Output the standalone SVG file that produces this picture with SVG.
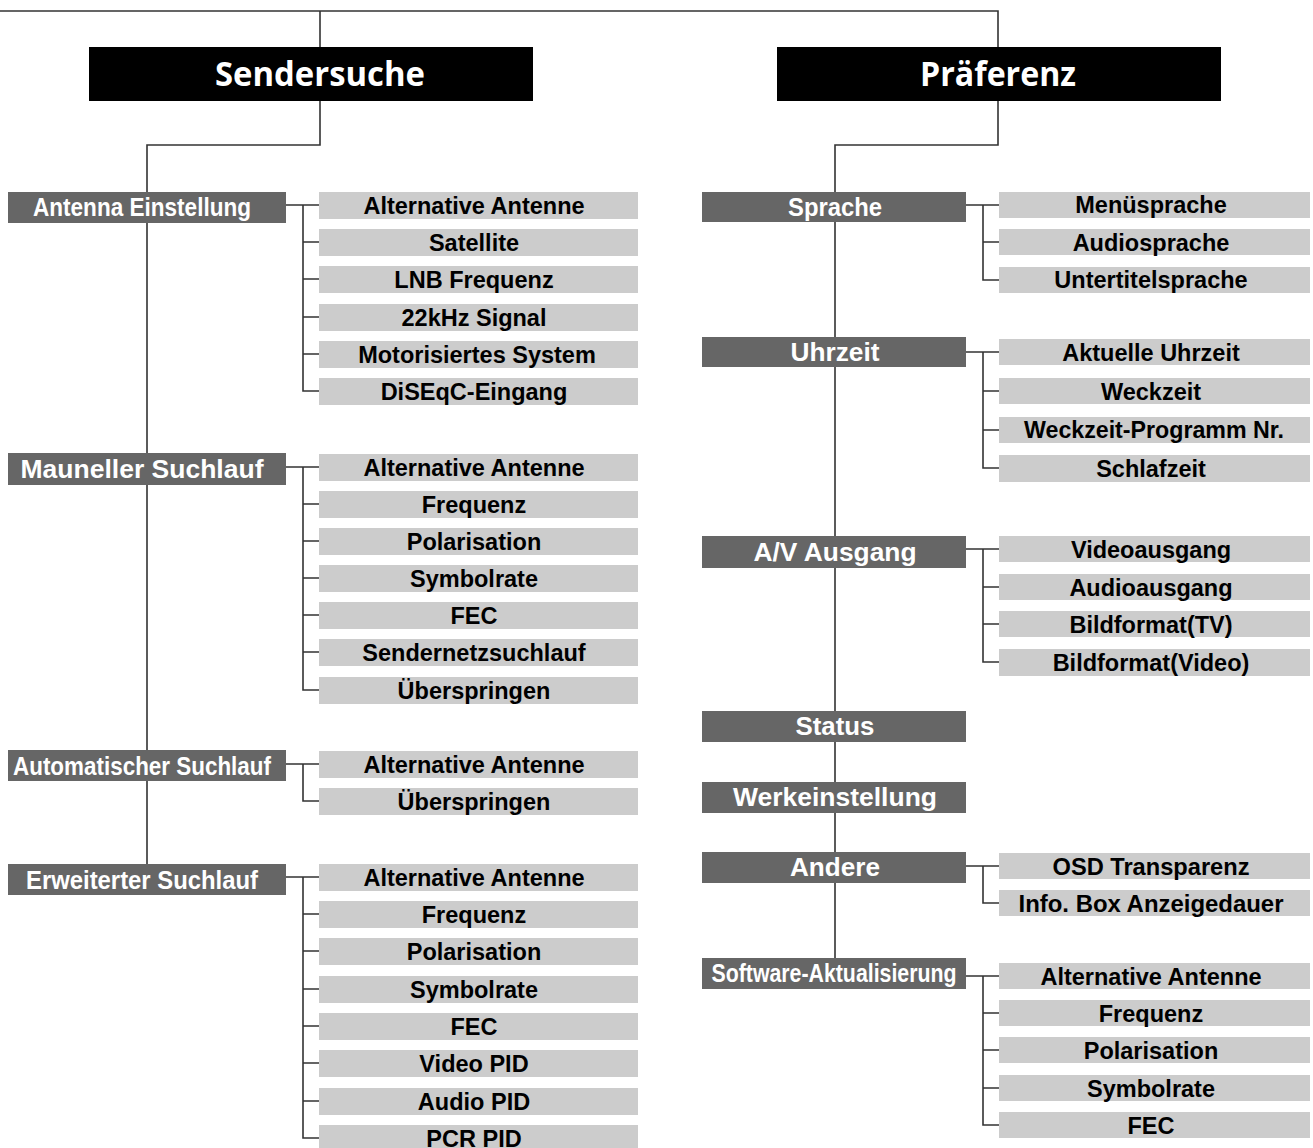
<svg xmlns="http://www.w3.org/2000/svg" width="1313" height="1148" viewBox="0 0 1313 1148">
<style>
.title{fill:#000}
.tt{font-family:"Open Sans","Liberation Sans",sans-serif;font-weight:bold;font-size:34px;fill:#fff;text-anchor:middle}
.cat{fill:#666}
.ct{font-family:"Liberation Sans",Arial,sans-serif;font-weight:bold;font-size:26px;fill:#fff;text-anchor:middle}
.item{fill:#ccc}
.it{font-family:"Liberation Sans",Arial,sans-serif;font-weight:bold;font-size:23.5px;fill:#000;text-anchor:middle}
.ln{fill:none;stroke:#333;stroke-width:1.6}
</style>
<rect width="1313" height="1148" fill="#fff"/>
<g id="connectors">
<path class="ln" d="M0 11H998V47M320 11V47M320 101V145H147V864M998 101V145H835V958"/>
<!-- left branches -->
<path class="ln" d="M286 205H319M303 205V391H319M303 242H319M303 279H319M303 317H319M303 354H319"/>
<path class="ln" d="M286 467H319M303 467V690H319M303 504H319M303 541H319M303 578H319M303 615H319M303 652H319"/>
<path class="ln" d="M286 764H319M303 764V801H319"/>
<path class="ln" d="M286 877H319M303 877V1138H319M303 914H319M303 951H319M303 989H319M303 1026H319M303 1063H319M303 1101H319"/>
<!-- right branches -->
<path class="ln" d="M966 205H999M983 205V280H999M983 242H999"/>
<path class="ln" d="M966 352H999M983 352V468H999M983 391H999M983 430H999"/>
<path class="ln" d="M966 549H999M983 549V662H999M983 587H999M983 624H999"/>
<path class="ln" d="M966 866H999M983 866V903H999"/>
<path class="ln" d="M966 976H999M983 976V1125H999M983 1013H999M983 1050H999M983 1088H999"/>
</g>
<g id="sendersuche"><rect class="title" x="89" y="47" width="444" height="54"/><text class="tt" x="320" y="86" textLength="210" lengthAdjust="spacingAndGlyphs">Sendersuche</text></g>
<g id="praeferenz"><rect class="title" x="777" y="47" width="444" height="54"/><text class="tt" x="998" y="86" textLength="156" lengthAdjust="spacingAndGlyphs">Präferenz</text></g>

<g id="antenna-einstellung"><rect class="cat" x="8" y="192" width="278" height="31"/><text class="ct" x="142" y="216" textLength="218" lengthAdjust="spacingAndGlyphs">Antenna Einstellung</text></g>
<g id="mauneller-suchlauf"><rect class="cat" x="8" y="453" width="278" height="32"/><text class="ct" x="142" y="478" textLength="243" lengthAdjust="spacingAndGlyphs">Mauneller Suchlauf</text></g>
<g id="automatischer-suchlauf"><rect class="cat" x="8" y="750" width="278" height="31"/><text class="ct" x="142" y="775" textLength="258" lengthAdjust="spacingAndGlyphs">Automatischer Suchlauf</text></g>
<g id="erweiterter-suchlauf"><rect class="cat" x="8" y="864" width="278" height="31"/><text class="ct" x="142" y="889" textLength="232" lengthAdjust="spacingAndGlyphs">Erweiterter Suchlauf</text></g>

<g id="a1"><rect class="item" x="319" y="192" width="319" height="27"/><text class="it" x="474" y="214">Alternative Antenne</text></g>
<g id="a2"><rect class="item" x="319" y="229" width="319" height="27"/><text class="it" x="474" y="251">Satellite</text></g>
<g id="a3"><rect class="item" x="319" y="266" width="319" height="27"/><text class="it" x="474" y="288">LNB Frequenz</text></g>
<g id="a4"><rect class="item" x="319" y="304" width="319" height="27"/><text class="it" x="474" y="326">22kHz Signal</text></g>
<g id="a5"><rect class="item" x="319" y="341" width="319" height="27"/><text class="it" x="477" y="363">Motorisiertes System</text></g>
<g id="a6"><rect class="item" x="319" y="378" width="319" height="27"/><text class="it" x="474" y="400">DiSEqC-Eingang</text></g>

<g id="m1"><rect class="item" x="319" y="454" width="319" height="27"/><text class="it" x="474" y="476">Alternative Antenne</text></g>
<g id="m2"><rect class="item" x="319" y="491" width="319" height="27"/><text class="it" x="474" y="513">Frequenz</text></g>
<g id="m3"><rect class="item" x="319" y="528" width="319" height="27"/><text class="it" x="474" y="550">Polarisation</text></g>
<g id="m4"><rect class="item" x="319" y="565" width="319" height="27"/><text class="it" x="474" y="587">Symbolrate</text></g>
<g id="m5"><rect class="item" x="319" y="602" width="319" height="27"/><text class="it" x="474" y="624">FEC</text></g>
<g id="m6"><rect class="item" x="319" y="639" width="319" height="27"/><text class="it" x="474" y="661">Sendernetzsuchlauf</text></g>
<g id="m7"><rect class="item" x="319" y="677" width="319" height="27"/><text class="it" x="474" y="699">Überspringen</text></g>

<g id="au1"><rect class="item" x="319" y="751" width="319" height="27"/><text class="it" x="474" y="773">Alternative Antenne</text></g>
<g id="au2"><rect class="item" x="319" y="788" width="319" height="27"/><text class="it" x="474" y="810">Überspringen</text></g>

<g id="e1"><rect class="item" x="319" y="864" width="319" height="27"/><text class="it" x="474" y="886">Alternative Antenne</text></g>
<g id="e2"><rect class="item" x="319" y="901" width="319" height="27"/><text class="it" x="474" y="923">Frequenz</text></g>
<g id="e3"><rect class="item" x="319" y="938" width="319" height="27"/><text class="it" x="474" y="960">Polarisation</text></g>
<g id="e4"><rect class="item" x="319" y="976" width="319" height="27"/><text class="it" x="474" y="998">Symbolrate</text></g>
<g id="e5"><rect class="item" x="319" y="1013" width="319" height="27"/><text class="it" x="474" y="1035">FEC</text></g>
<g id="e6"><rect class="item" x="319" y="1050" width="319" height="27"/><text class="it" x="474" y="1072">Video PID</text></g>
<g id="e7"><rect class="item" x="319" y="1088" width="319" height="27"/><text class="it" x="474" y="1110">Audio PID</text></g>
<g id="e8"><rect class="item" x="319" y="1125" width="319" height="27"/><text class="it" x="474" y="1147">PCR PID</text></g>

<g id="sprache"><rect class="cat" x="702" y="192" width="264" height="30"/><text class="ct" x="835" y="216" textLength="94" lengthAdjust="spacingAndGlyphs">Sprache</text></g>
<g id="uhrzeit"><rect class="cat" x="702" y="337" width="264" height="30"/><text class="ct" x="835" y="361" textLength="89" lengthAdjust="spacingAndGlyphs">Uhrzeit</text></g>
<g id="av-ausgang"><rect class="cat" x="702" y="536" width="264" height="32"/><text class="ct" x="835" y="561" textLength="163" lengthAdjust="spacingAndGlyphs">A/V Ausgang</text></g>
<g id="status"><rect class="cat" x="702" y="711" width="264" height="31"/><text class="ct" x="835" y="735" textLength="79" lengthAdjust="spacingAndGlyphs">Status</text></g>
<g id="werkeinstellung"><rect class="cat" x="702" y="782" width="264" height="31"/><text class="ct" x="835" y="806" textLength="204" lengthAdjust="spacingAndGlyphs">Werkeinstellung</text></g>
<g id="andere"><rect class="cat" x="702" y="852" width="264" height="31"/><text class="ct" x="835" y="876" textLength="90" lengthAdjust="spacingAndGlyphs">Andere</text></g>
<g id="software"><rect class="cat" x="702" y="958" width="264" height="31"/><text class="ct" x="834" y="982" textLength="245" lengthAdjust="spacingAndGlyphs">Software-Aktualisierung</text></g>

<g id="s1"><rect class="item" x="999" y="192" width="311" height="26"/><text class="it" x="1151" y="213">Menüsprache</text></g>
<g id="s2"><rect class="item" x="999" y="229" width="311" height="26"/><text class="it" x="1151" y="251">Audiosprache</text></g>
<g id="s3"><rect class="item" x="999" y="267" width="311" height="26"/><text class="it" x="1151" y="288">Untertitelsprache</text></g>

<g id="u1"><rect class="item" x="999" y="339" width="311" height="26"/><text class="it" x="1151" y="361">Aktuelle Uhrzeit</text></g>
<g id="u2"><rect class="item" x="999" y="378" width="311" height="26"/><text class="it" x="1151" y="400">Weckzeit</text></g>
<g id="u3"><rect class="item" x="999" y="417" width="311" height="26"/><text class="it" x="1154" y="438" textLength="260" lengthAdjust="spacingAndGlyphs">Weckzeit-Programm Nr.</text></g>
<g id="u4"><rect class="item" x="999" y="455" width="311" height="27"/><text class="it" x="1151" y="477">Schlafzeit</text></g>

<g id="v1"><rect class="item" x="999" y="536" width="311" height="26"/><text class="it" x="1151" y="558">Videoausgang</text></g>
<g id="v2"><rect class="item" x="999" y="574" width="311" height="26"/><text class="it" x="1151" y="596">Audioausgang</text></g>
<g id="v3"><rect class="item" x="999" y="611" width="311" height="26"/><text class="it" x="1151" y="633">Bildformat(TV)</text></g>
<g id="v4"><rect class="item" x="999" y="649" width="311" height="27"/><text class="it" x="1151" y="671">Bildformat(Video)</text></g>

<g id="o1"><rect class="item" x="999" y="853" width="311" height="26"/><text class="it" x="1151" y="875" textLength="197" lengthAdjust="spacingAndGlyphs">OSD Transparenz</text></g>
<g id="o2"><rect class="item" x="999" y="890" width="311" height="26"/><text class="it" x="1151" y="912" textLength="265" lengthAdjust="spacingAndGlyphs">Info. Box Anzeigedauer</text></g>

<g id="sw1"><rect class="item" x="999" y="963" width="311" height="26"/><text class="it" x="1151" y="985">Alternative Antenne</text></g>
<g id="sw2"><rect class="item" x="999" y="1000" width="311" height="26"/><text class="it" x="1151" y="1022">Frequenz</text></g>
<g id="sw3"><rect class="item" x="999" y="1037" width="311" height="26"/><text class="it" x="1151" y="1059">Polarisation</text></g>
<g id="sw4"><rect class="item" x="999" y="1075" width="311" height="26"/><text class="it" x="1151" y="1097">Symbolrate</text></g>
<g id="sw5"><rect class="item" x="999" y="1112" width="311" height="26"/><text class="it" x="1151" y="1134">FEC</text></g>
</svg>
